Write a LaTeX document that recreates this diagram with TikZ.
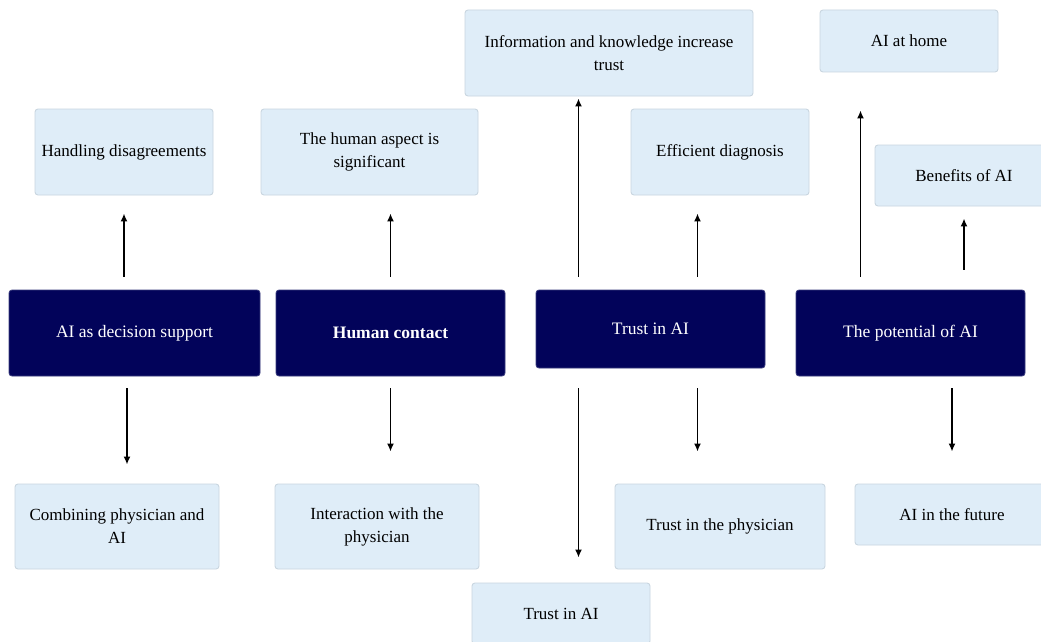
\documentclass[tikz,border=0pt]{standalone}
\usepackage{fontspec}
\setmainfont{Liberation Serif}
\usetikzlibrary{arrows.meta,positioning,calc}
\definecolor{ThemeNavy}{HTML}{02035A}
\definecolor{ThemeEdge}{HTML}{3A3C7E}
\definecolor{ThemePale}{HTML}{DFEDF8}
\definecolor{ThemeLine}{HTML}{C9D6E0}
\tikzset{
  link/.style={-{Latex[length=8pt,width=7pt]}, line width=1.8pt, draw=black},
  theme/.style={rounded corners=3pt, fill=ThemeNavy, draw=ThemeEdge, line width=0.8pt,
                text=white, align=center, inner sep=3pt, font=\fontsize{17.5}{22}\selectfont},
  subtheme/.style={rounded corners=3pt, fill=ThemePale, draw=ThemeLine, line width=0.9pt,
                   text=black, align=center, inner sep=3pt, font=\fontsize{17}{23}\selectfont},
}
\begin{document}
\begin{tikzpicture}[x=1pt,y=-1pt]
  \useasboundingbox[fill=white] (0,0) rectangle (1041,642);
  % main themes
  \node[theme,minimum width=251pt,minimum height=86pt] (dss) at (134.5,333) {AI as decision support};
  \node[theme,minimum width=229pt,minimum height=86pt] (hc) at (390.5,333) {\bfseries Human contact};
  \node[theme,minimum width=229pt,minimum height=78pt] (trust) at (650.5,329) {Trust in AI};
  \node[theme,minimum width=229pt,minimum height=86pt] (pot) at (910.5,333) {The potential of AI};
  % sub-themes above
  \node[subtheme,minimum width=178pt,minimum height=86pt] (handle) at (124,152) {Handling disagreements};
  \node[subtheme,minimum width=217pt,minimum height=86pt] (aspect) at (369.5,152) {The human aspect is\\significant};
  \node[subtheme,minimum width=288pt,minimum height=86pt] (info) at (609,53) {Information and knowledge increase\\trust};
  \node[subtheme,minimum width=178pt,minimum height=86pt] (diag) at (720,152) {Efficient diagnosis};
  \node[subtheme,minimum width=178pt,minimum height=62pt] (home) at (909,41) {AI at home};
  \node[subtheme,minimum width=178pt,minimum height=61pt] (benefit) at (964,175.5) {Benefits of AI};
  % sub-themes below
  \node[subtheme,minimum width=204pt,minimum height=85pt] (comb) at (117,526.5) {Combining physician and\\AI};
  \node[subtheme,minimum width=204pt,minimum height=85pt] (interact) at (377,526.5) {Interaction with the\\physician};
  \node[subtheme,minimum width=178pt,minimum height=61pt] (trustai) at (561,613.5) {Trust in AI};
  \node[subtheme,minimum width=210pt,minimum height=85pt] (trustphys) at (720,526.5) {Trust in the physician};
  \node[subtheme,minimum width=194pt,minimum height=61pt] (future) at (952,514.5) {AI in the future};
  % upward links
  \draw[link,shorten <=13pt,shorten >=18pt] (dss.north -| handle.south) -- (handle.south);
  \draw[link,shorten <=13pt,shorten >=18pt] (hc.north) -- (hc.north |- aspect.south);
  \draw[link,shorten <=13pt,shorten >=2pt] ([xshift=-72pt]trust.north) -- ([xshift=-72pt]trust.north |- info.south);
  \draw[link,shorten <=13pt,shorten >=18pt] ([xshift=47pt]trust.north) -- ([xshift=47pt]trust.north |- diag.south);
  \draw[link,shorten <=13pt,shorten >=38pt] ([xshift=-50pt]pot.north) -- ([xshift=-50pt]pot.north |- home.south);
  \draw[link,shorten <=20pt,shorten >=12pt] (pot.north -| benefit.south) -- (benefit.south);
  % downward links
  \draw[link,shorten <=12pt,shorten >=19pt] ([xshift=-7.5pt]dss.south) -- ([xshift=-7.5pt]dss.south |- comb.north);
  \draw[link,shorten <=12pt,shorten >=32pt] (hc.south) -- (hc.south |- interact.north);
  \draw[link,shorten <=20pt,shorten >=25pt] ([xshift=-72pt]trust.south) -- ([xshift=-72pt]trust.south |- trustai.north);
  \draw[link,shorten <=20pt,shorten >=32pt] ([xshift=47pt]trust.south) -- ([xshift=47pt]trust.south |- trustphys.north);
  \draw[link,shorten <=12pt,shorten >=32pt] (pot.south -| future.north) -- (future.north);
\end{tikzpicture}
\end{document}
